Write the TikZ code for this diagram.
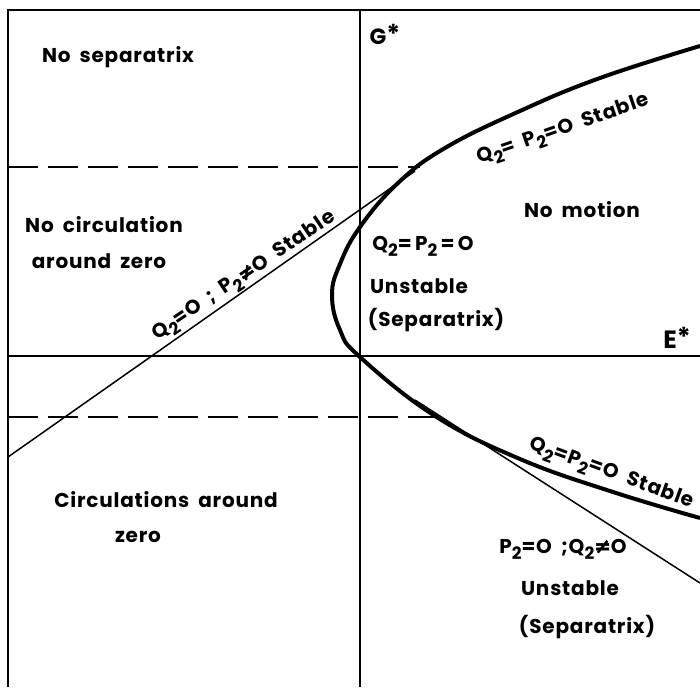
\documentclass[tikz,border=0pt]{standalone}
\usepackage{fontspec}
\setmainfont{Poppins}[LetterSpace=4, WordSpace=1.8]
\newfontfamily\symf{DejaVu Sans}[FakeBold=2]
\newcommand{\lo}[1]{\raisebox{-0.6ex}{\fontsize{17}{17}\selectfont #1}}
\newcommand{\nq}{{\symf ≠}}
\newcommand{\myast}{\raisebox{0.1ex}{\fontsize{26}{26}\selectfont *}}
\begin{document}
\begin{tikzpicture}[x=1pt,y=-1pt,
  frameline/.style={line width=1.6pt},
  thinline/.style={line width=1.5pt},
  thickline/.style={line width=4pt, line join=round},
  dashline/.style={line width=1.6pt, dash pattern=on 30pt off 10pt},
  lbl/.style={font=\fontsize{20}{22}\selectfont\bfseries, inner sep=0pt, anchor=base}]
\useasboundingbox (0,0) rectangle (700,687);
% frame and axes
\coordinate (TL) at (8,10); \coordinate (TR) at (700,10); \coordinate (BL) at (8,687);
\coordinate (Vt) at (360,10); \coordinate (Vb) at (360,687);
\coordinate (Hl) at (8,356); \coordinate (Hr) at (700,356);
\coordinate (D1l) at (8,167); \coordinate (D1r) at (420,167);
\coordinate (D2l) at (8,417); \coordinate (D2r) at (435,417);
\coordinate (L1a) at (8,457); \coordinate (L1b) at (415,171);
\coordinate (L2a) at (415,400); \coordinate (L2b) at (700,583);
\draw[frameline] (BL) -- (TL) -- (TR);
\draw[frameline] (Vt) -- (Vb);
\draw[frameline] (Hl) -- (Hr);
\draw[dashline] (D1l) -- (D1r);
\draw[dashline] (D2l) -- (D2r);
\draw[thinline] (L1a) -- (L1b);
\draw[thinline] (L2a) -- (L2b);
% curve
\draw[thickline] plot[smooth, tension=0.7] coordinates {(700,46) (600,78) (520,111) (445,148) (398,183) (360,227) (340,264) (332,295) (340,330) (360,357) (435,416) (520,459) (613,492) (700,518)};
% labels
\node[lbl] (nosep) at (118,63) {No separatrix};
\node[lbl] (nocirc) at (104,232) {No circulation};
\node[lbl] (around) at (99,268) {around zero};
\node[lbl, rotate=34] (q2a) at (247,280) {Q\lo{2}=O ; P\lo{2}\nq O\enspace Stable};
\node[lbl, font=\fontsize{22}{24}\selectfont\bfseries] (G) at (385,45) {G\myast};
\node[lbl, rotate=19] (q2b) at (565,134) {Q\lo{2}= P\lo{2}=O\enspace Stable};
\node[lbl] (nomot) at (582,217) {No motion};
\node[lbl] (q2c) at (423,250) {Q\lo{2}=\,P\lo{2}\,=\,O};
\node[lbl] (unst1) at (419,293) {Unstable};
\node[lbl] (sep1) at (436,326) {(Separatrix)};
\node[lbl, font=\fontsize{25}{26}\selectfont\bfseries] (E) at (677,348) {E\myast};
\node[lbl] (circ) at (166,507) {Circulations around};
\node[lbl] (zero) at (138,542) {zero};
\node[lbl, rotate=-20] (q2d) at (610,478) {Q\lo{2}=P\lo{2}=O\enspace Stable};
\node[lbl] (p2) at (563,553) {P\lo{2}=O ;Q\lo{2}\nq O};
\node[lbl] (unst2) at (570,595) {Unstable};
\node[lbl] (sep2) at (587,633) {(Separatrix)};
\end{tikzpicture}
\end{document}
